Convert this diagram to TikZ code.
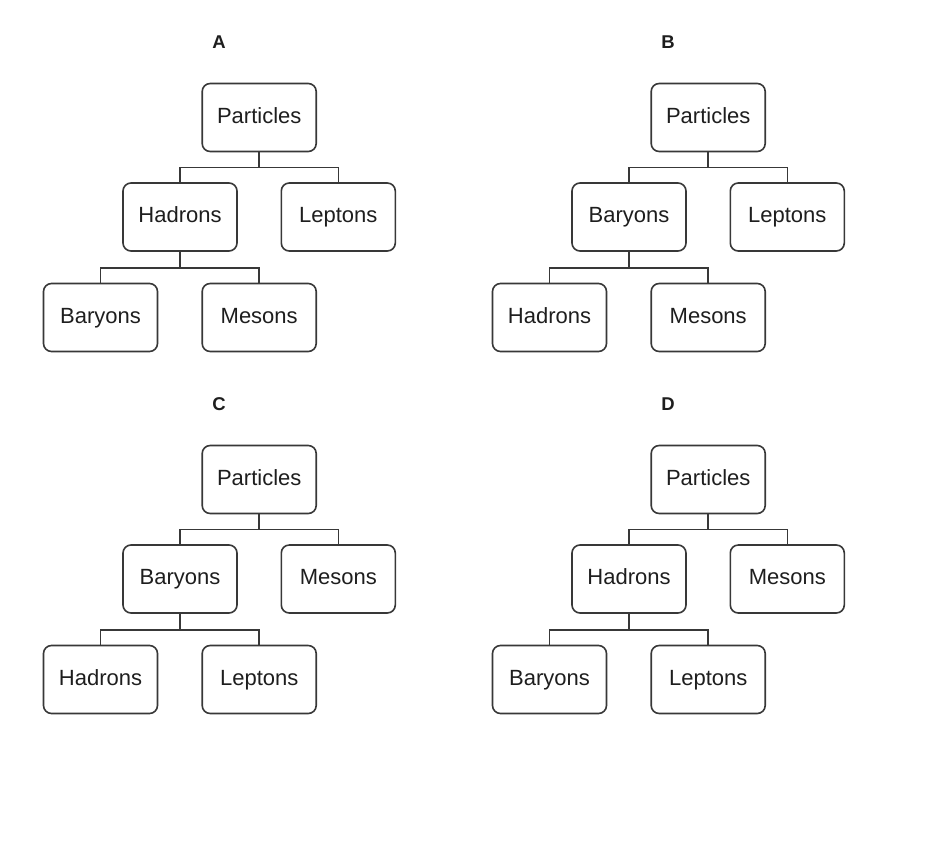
\documentclass[tikz,border=0pt]{standalone}
\usepackage{fontspec}
\setmainfont{Liberation Sans}
\definecolor{linec}{HTML}{383838}
\definecolor{textc}{HTML}{1E1E1E}
\tikzset{
  box/.style={draw=linec, line width=1.6pt, rounded corners=8pt, minimum width=114pt, minimum height=68pt, inner sep=0pt, text height=15.6pt, text depth=4pt, text=textc, font=\fontsize{22}{26}\selectfont},
  lbl/.style={text=textc, font=\bfseries\fontsize{18.5}{22}\selectfont, inner sep=0pt},
  conn/.style={draw=linec, line width=1.6pt}
}
\newcommand\drawpanel[8]{%
\begin{scope}[shift={(#2,#3)}]
  \node[lbl] (#1lab) at (219,-42) {#4};
  \node[box] (#1p) at (259.2,-117.5) {Particles};
  \node[box] (#1m) at (180,-217) {#5};
  \node[box] (#1r) at (338.3,-217) {#6};
  \node[box] (#1bl) at (100.5,-317.5) {#7};
  \node[box] (#1br) at (259.2,-317.5) {#8};
  \coordinate (#1j1) at ([yshift=-15.3pt]#1p.south);
  \coordinate (#1j2) at ([yshift=-16pt]#1m.south);
  \draw[conn] (#1p.south) -- (#1j1);
  \draw[conn] (#1j1) -| (#1m.north);
  \draw[conn] (#1j1) -| (#1r.north);
  \draw[conn] (#1m.south) -- (#1j2);
  \draw[conn] (#1j2) -| (#1bl.north);
  \draw[conn] (#1j2) -| (#1br.north);
\end{scope}}
\begin{document}
\begin{tikzpicture}[x=1pt,y=1pt]
\fill[white] (0,0) rectangle (945,-867);
\useasboundingbox (0,0) rectangle (945,-867);
\drawpanel{a}{0}{0}{A}{Hadrons}{Leptons}{Baryons}{Mesons}
\drawpanel{b}{449}{0}{B}{Baryons}{Leptons}{Hadrons}{Mesons}
\drawpanel{c}{0}{-362}{C}{Baryons}{Mesons}{Hadrons}{Leptons}
\drawpanel{d}{449}{-362}{D}{Hadrons}{Mesons}{Baryons}{Leptons}
\end{tikzpicture}
\end{document}
